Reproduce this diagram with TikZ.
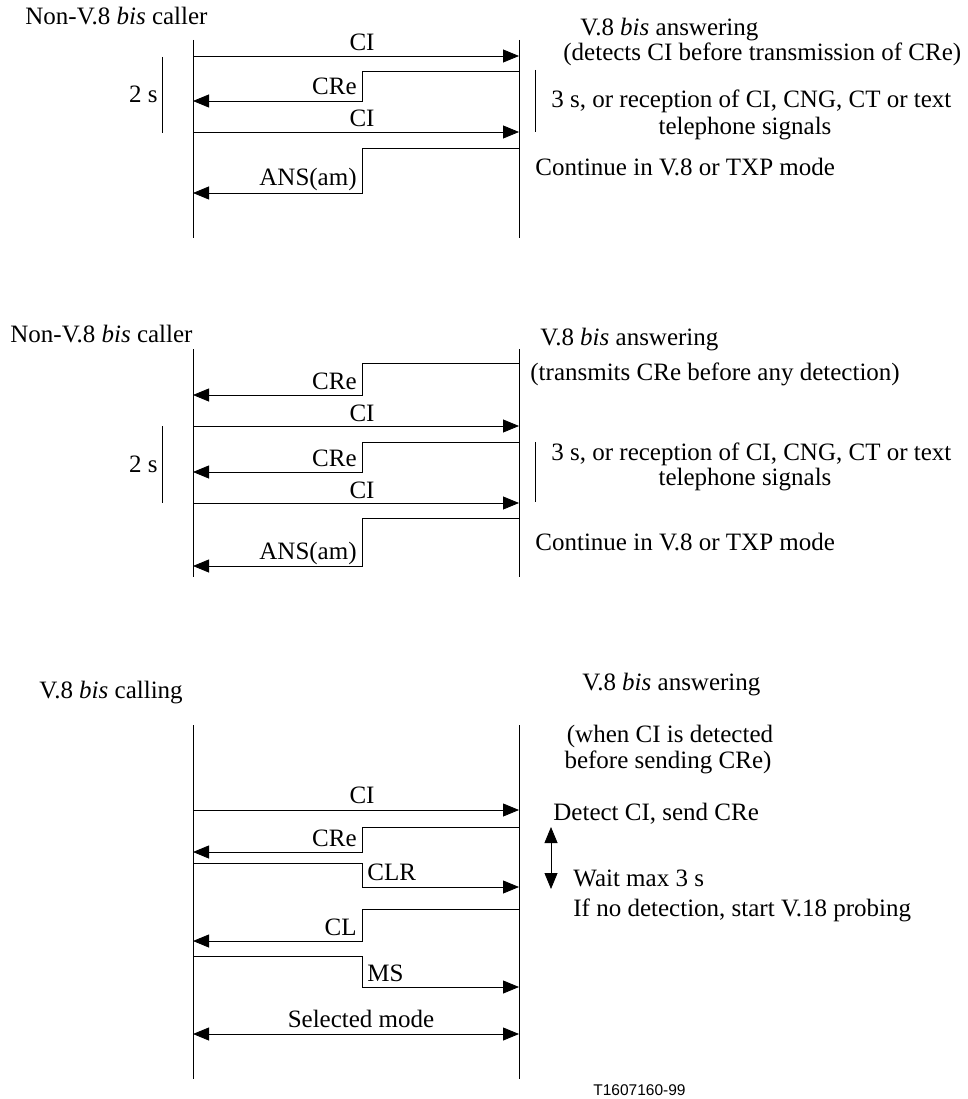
\documentclass[tikz,border=0pt]{standalone}
\usepackage{fontspec}
\setmainfont{Liberation Serif}
\setsansfont{Liberation Sans}
\usetikzlibrary{arrows.meta}
\begin{document}
\begin{tikzpicture}[x=1pt,y=-1pt,line width=0.8pt,
  >={Triangle[length=16pt,width=13pt]},
  txt/.style={inner sep=0pt,font=\fontsize{25}{28}\selectfont},
  life/.style={line width=0.8pt},
  code/.style={inner sep=0pt,font=\sffamily\fontsize{15.5}{18}\selectfont}]
\useasboundingbox (0,0) rectangle (967,1099);
\coordinate (sx) at (362,0);

% ---------------- Diagram 1 ----------------
\coordinate (L1t) at (193,40); \coordinate (L1b) at (193,238);
\coordinate (R1t) at (519,40); \coordinate (R1b) at (519,238);
\draw[life] (L1t) -- (L1b);
\draw[life] (R1t) -- (R1b);
\node[txt,anchor=base west] (cal1) at (25,25) {Non-V.8 \textit{bis} caller};
\node[txt,anchor=base west] (ans1) at (580,36) {V.8 \textit{bis} answering};
\node[txt,anchor=base west] (det1) at (563,61) {(detects CI before transmission of CRe)};

\coordinate (m1a) at (193,56); \coordinate (m1b) at (519,56);
\draw[->] (m1a) -- (m1b);
\node[txt,anchor=base] (ci1) at (362,51) {CI};

\coordinate (m2a) at (519,71); \coordinate (m2b) at (193,101);
\draw[->] (m2a) -- (m2a -| sx) -- (m2b -| sx) -- (m2b);
\node[txt,anchor=base east] (cre1) at (357,95) {CRe};

\coordinate (m3a) at (193,132); \coordinate (m3b) at (519,132);
\draw[->] (m3a) -- (m3b);
\node[txt,anchor=base] (ci2) at (362,127) {CI};

\coordinate (m4a) at (519,148); \coordinate (m4b) at (193,193);
\draw[->] (m4a) -- (m4a -| sx) -- (m4b -| sx) -- (m4b);
\node[txt,anchor=base east] (ansam1) at (357,186) {ANS(am)};

\coordinate (t1a) at (162,57); \coordinate (t1b) at (162,133);
\draw (t1a) -- (t1b);
\node[txt,anchor=base east] (two1) at (158,103) {2 s};

\coordinate (b1a) at (535,70); \coordinate (b1b) at (535,132);
\draw (b1a) -- (b1b);
\node[txt,anchor=base west] (thr1) at (551,108) {3 s, or reception of CI, CNG, CT or text};
\node[txt,anchor=base] (tel1) at (745,135) {telephone signals};
\node[txt,anchor=base west] (con1) at (535,176) {Continue in V.8 or TXP mode};

% ---------------- Diagram 2 ----------------
\coordinate (L2t) at (193,349); \coordinate (L2b) at (193,577);
\coordinate (R2t) at (519,349); \coordinate (R2b) at (519,577);
\draw[life] (L2t) -- (L2b);
\draw[life] (R2t) -- (R2b);
\node[txt,anchor=base west] (cal2) at (10,342) {Non-V.8 \textit{bis} caller};
\node[txt,anchor=base west] (ans2) at (540,345) {V.8 \textit{bis} answering};
\node[txt,anchor=base west] (tra2) at (530,380) {(transmits CRe before any detection)};

\coordinate (n1a) at (519,363); \coordinate (n1b) at (193,395);
\draw[->] (n1a) -- (n1a -| sx) -- (n1b -| sx) -- (n1b);
\node[txt,anchor=base east] (cre2) at (357,389) {CRe};

\coordinate (n2a) at (193,426); \coordinate (n2b) at (519,426);
\draw[->] (n2a) -- (n2b);
\node[txt,anchor=base] (ci3) at (362,421) {CI};

\coordinate (n3a) at (519,442); \coordinate (n3b) at (193,472);
\draw[->] (n3a) -- (n3a -| sx) -- (n3b -| sx) -- (n3b);
\node[txt,anchor=base east] (cre3) at (357,466) {CRe};

\coordinate (n4a) at (193,503); \coordinate (n4b) at (519,503);
\draw[->] (n4a) -- (n4b);
\node[txt,anchor=base] (ci4) at (362,498) {CI};

\coordinate (n5a) at (519,518); \coordinate (n5b) at (193,566);
\draw[->] (n5a) -- (n5a -| sx) -- (n5b -| sx) -- (n5b);
\node[txt,anchor=base east] (ansam2) at (357,559) {ANS(am)};

\coordinate (t2a) at (162,426); \coordinate (t2b) at (162,503);
\draw (t2a) -- (t2b);
\node[txt,anchor=base east] (two2) at (158,472) {2 s};

\coordinate (b2a) at (535,442); \coordinate (b2b) at (535,502);
\draw (b2a) -- (b2b);
\node[txt,anchor=base west] (thr2) at (551,460) {3 s, or reception of CI, CNG, CT or text};
\node[txt,anchor=base] (tel2) at (745,485) {telephone signals};
\node[txt,anchor=base west] (con2) at (535,550) {Continue in V.8 or TXP mode};

% ---------------- Diagram 3 ----------------
\coordinate (L3t) at (193,725); \coordinate (L3b) at (193,1079);
\coordinate (R3t) at (519,725); \coordinate (R3b) at (519,1079);
\draw[life] (L3t) -- (L3b);
\draw[life] (R3t) -- (R3b);
\node[txt,anchor=base west] (cal3) at (39,698) {V.8 \textit{bis} calling};
\node[txt,anchor=base west] (ans3) at (582,690) {V.8 \textit{bis} answering};
\node[txt,anchor=base] (whn3) at (670,742) {(when CI is detected};
\node[txt,anchor=base] (bef3) at (668,768) {before sending CRe)};

\coordinate (p1a) at (193,810); \coordinate (p1b) at (519,810);
\draw[->] (p1a) -- (p1b);
\node[txt,anchor=base] (ci5) at (362,803) {CI};
\node[txt,anchor=base west] (dci3) at (553,820) {Detect CI, send CRe};

\coordinate (p2a) at (519,827); \coordinate (p2b) at (193,852);
\draw[->] (p2a) -- (p2a -| sx) -- (p2b -| sx) -- (p2b);
\node[txt,anchor=base east] (cre5) at (357,846) {CRe};

\coordinate (p3a) at (193,863); \coordinate (p3b) at (519,887);
\draw[->] (p3a) -- (p3a -| sx) -- (p3b -| sx) -- (p3b);
\node[txt,anchor=base west] (clr3) at (367,880) {CLR};

\coordinate (w3a) at (551,827); \coordinate (w3b) at (551,889);
\draw[<->] (w3a) -- (w3b);
\node[txt,anchor=base west] (wai3) at (573,886) {Wait max 3 s};
\node[txt,anchor=base west] (ifn3) at (573,916) {If no detection, start V.18 probing};

\coordinate (p4a) at (519,909); \coordinate (p4b) at (193,941);
\draw[->] (p4a) -- (p4a -| sx) -- (p4b -| sx) -- (p4b);
\node[txt,anchor=base east] (cl3) at (357,935) {CL};

\coordinate (p5a) at (193,956); \coordinate (p5b) at (519,987);
\draw[->] (p5a) -- (p5a -| sx) -- (p5b -| sx) -- (p5b);
\node[txt,anchor=base west] (ms3) at (367,981) {MS};

\coordinate (p6a) at (193,1034); \coordinate (p6b) at (519,1034);
\draw[<->] (p6a) -- (p6b);
\node[txt,anchor=base] (sel3) at (361,1027) {Selected mode};

\node[code,anchor=base west] (fig) at (593,1095) {T1607160-99};
\end{tikzpicture}
\end{document}
